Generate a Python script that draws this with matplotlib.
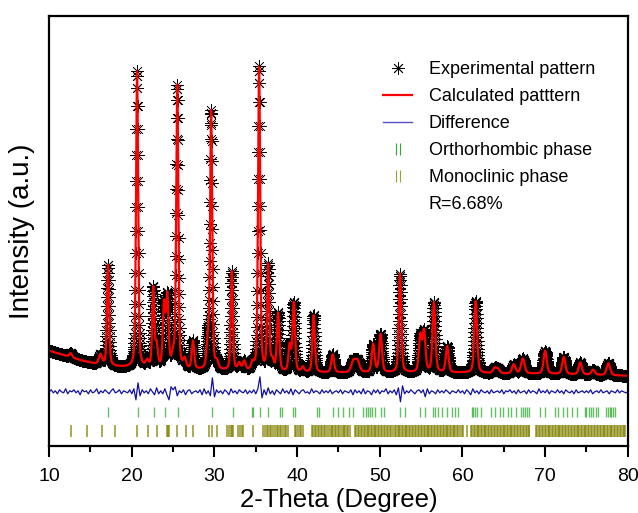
import matplotlib.pyplot as plt
from matplotlib.lines import Line2D
from matplotlib.path import Path
import numpy as np

plt.rcParams['font.family'] = ['Liberation Sans', 'DejaVu Sans']

# ---- data (intensity in arbitrary units) ----
# background anchor points of the refined profile
bg_x = [10, 12, 14, 16, 18, 20, 25, 30, 35, 40, 45, 50, 55, 60, 65, 70, 75, 80]
bg_y = [95, 90, 85, 81, 79, 78, 76, 75, 74, 73, 73, 73, 73, 73, 72, 72, 71, 70]

# reflections: position (deg), height above background, fwhm (deg)
pk_pos = [12.6, 16.2, 17.13, 20.64, 21.85, 22.6, 23.0, 23.9, 24.3, 25.0, 25.5, 26.4,
          27.4, 29.2, 29.6, 30.3, 32.1, 33.0, 33.6, 34.6, 35.4, 36.5, 37.0, 37.7,
          39.1, 39.6, 40.7, 42.0, 44.3, 46.8, 47.3, 49.2, 50.1, 52.45, 54.9, 55.35,
          56.55, 58.15, 61.6, 63.9, 64.3, 66.2, 67.3, 70.0, 72.25, 74.25, 75.8, 77.65]
pk_h = [4, 10, 101, 296, 6, 79, 22, 62, 70, 12, 283, 9,
        28, 26, 258, 7, 99, 7, 9, 7, 304, 105, 10, 58,
        26, 69, 5, 57, 18, 11, 11, 28, 38, 99, 36, 40,
        70, 26, 72, 5, 4, 9, 15, 23, 17, 12, 5, 12]
pk_w = [0.4, 0.45, 0.3, 0.3, 0.4, 0.3, 0.35, 0.35, 0.35, 0.4, 0.3, 0.4,
        0.35, 0.35, 0.3, 0.4, 0.3, 0.4, 0.4, 0.4, 0.3, 0.3, 0.4, 0.35,
        0.35, 0.35, 0.4, 0.35, 0.4, 0.6, 0.6, 0.4, 0.4, 0.35, 0.4, 0.4,
        0.4, 0.4, 0.4, 0.5, 0.5, 0.5, 0.5, 0.45, 0.45, 0.45, 0.5, 0.5]

# difference curve, 0.25 deg steps from 10 to 80
diff_base = 54
diff_vals = [
    0, 2, -1, 1, -2, 2, 0, -1, 3, -2, 1, 0, 2, -1, 1, -3, 2, 0, 1, -2,
    2, -1, 0, 3, -2, 1, -1, 2, 0, -2, 1, 3, -1, 0, 2, -2, 1, 0, -1, 2,
    -2, 3, -8, 9, -4, 2, -1, 1, -2, 3, 0, -3, 4, -2, 1, -2, 3, -3, -8, 5,
    2, 5, -4, 1, -1, 2, -3, 1, 2, -2, 0, 1, -1, 2, -3, 3, -2, 1, -4, 14,
    -5, 2, -1, 1, -2, 2, 0, -3, 3, -1, 1, -2, 2, 0, -1, 2, -2, 1, -1, 2,
    -2, 3, 15, -6, 2, -3, 4, -2, 1, -3, 2, 0, -2, 3, -1, 1, -2, 3, -3, 2,
    0, -2, 1, 2, -1, 0, -2, 3, -1, 1, 0, -2, 2, -1, 1, -1, 2, -2, 0, 1,
    -1, 2, -2, 1, 0, -1, 2, -3, 2, -1, 1, -2, 3, -2, 1, 0, -3, 2, -1, 2,
    -2, 1, 0, 3, -2, 1, -1, 2, -3, 4, -10, 6, -2, 1, -1, 2, 0, -2, 1, 2,
    -1, 2, -5, 3, -2, 1, 0, -2, 2, -1, 1, -1, 2, 0, -2, 1, 0, -1, 2, -1,
    1, -2, 2, 0, -3, 3, -1, 1, -2, 2, 0, -1, 1, -2, 2, -1, 0, 1, -1, 2,
    -2, 1, 0, 2, -1, 1, -2, 2, -1, 0, 1, -2, 2, -1, 1, 0, -2, 3, -1, 1,
    -1, 2, -2, 1, 0, -1, 2, -1, 1, -2, 2, 0, -1, 1, -2, 2, -1, 0, 1, -1,
    1, -1, 2, -2, 0, 1, -1, 2, -1, 0, 1, -2, 1, 0, -1, 2, -1, 1, 0, -1, 0]

# Bragg positions
ortho_pos = [17.17, 20.8, 22.7, 24.0, 25.6, 29.67, 32.2, 34.5, 34.7, 35.5, 36.5, 37.9,
             38.15, 39.5, 39.7, 42.4, 42.7, 44.4, 44.9, 45.6, 46.3, 46.7, 48.0, 48.3,
             48.6, 48.8, 49.0, 49.4, 50.2, 50.5, 52.5, 53.0, 54.9, 55.5, 56.4, 56.7,
             57.1, 57.5, 58.1, 58.7, 59.1, 59.5, 61.1, 61.3, 61.5, 61.7, 62.3, 63.5,
             63.9, 64.5, 64.9, 65.5, 65.9, 66.5, 67.1, 67.3, 67.6, 67.85, 68.1, 69.4,
             70.0, 71.2, 71.6, 72.2, 72.7, 73.2, 73.8, 74.8, 75.0, 75.3, 75.6, 75.85,
             76.1, 76.4, 77.4, 77.6, 77.8, 78.0, 78.2, 78.4]
mono_pos = [12.6, 14.55, 16.37, 17.98, 20.68, 21.93, 23.1, 24.23, 24.4, 24.55, 25.44,
            26.56, 27.45, 29.38, 29.67, 30.35, 31.5, 31.7, 31.95, 32.1, 32.3, 32.9,
            33.1, 33.3, 33.5, 34.7, 35.9, 36.1, 36.3, 36.45, 36.7, 36.85, 37.1, 37.3,
            37.55, 37.7, 37.95, 38.1, 38.35, 38.5, 38.7, 38.9, 39.7, 39.9, 40.1, 40.3,
            40.5, 40.7, 41.8, 41.95, 42.15, 42.3, 42.5, 42.7, 42.85, 43.05, 43.2, 43.4,
            43.6, 43.9, 44.05, 44.25, 44.4, 44.6, 44.75, 44.95, 45.1, 45.3, 45.5, 45.65,
            45.85, 46.05, 46.2, 46.4, 47.0, 47.15, 47.35, 47.5, 47.7, 47.85, 48.05, 48.2,
            48.4, 48.55, 48.75, 48.9, 49.1, 49.25, 49.45, 49.6, 49.8, 49.95, 50.15, 50.3,
            50.5, 50.65, 50.85, 51.0, 51.2, 51.35, 51.6, 51.8, 51.95, 52.15, 52.3, 52.5,
            52.65, 52.85, 53.0, 53.2, 53.35, 53.55, 53.7, 53.9, 54.05, 54.25, 54.4, 54.6,
            54.75, 54.95, 55.1, 55.3, 55.5, 55.7, 55.85, 56.0, 56.2, 56.35, 56.55, 56.7,
            56.9, 57.05, 57.25, 57.4, 57.6, 57.75, 57.95, 58.1, 58.3, 58.45, 58.65, 58.8,
            59.0, 59.15, 59.35, 59.5, 59.7, 59.9, 60.1, 60.5, 61.0, 61.15, 61.35, 61.5,
            61.7, 61.85, 62.05, 62.2, 62.4, 62.55, 62.75, 62.9, 63.1, 63.25, 63.45, 63.6,
            63.8, 63.95, 64.15, 64.3, 64.5, 64.65, 64.85, 65.0, 65.2, 65.35, 65.55, 65.7,
            65.9, 66.05, 66.25, 66.4, 66.6, 66.75, 66.95, 67.1, 67.3, 67.45, 67.65, 67.8,
            68.0, 68.1, 68.9, 69.05, 69.25, 69.4, 69.6, 69.75, 69.95, 70.1, 70.3, 70.45,
            70.65, 70.8, 71.0, 71.15, 71.35, 71.5, 71.7, 71.85, 72.05, 72.2, 72.4, 72.55,
            72.75, 72.9, 73.1, 73.25, 73.45, 73.6, 73.8, 73.95, 74.15, 74.3, 74.5, 74.65,
            74.85, 75.0, 75.2, 75.35, 75.55, 75.7, 75.9, 76.05, 76.25, 76.4, 76.6, 76.75,
            76.95, 77.1, 77.3, 77.45, 77.65, 77.8, 78.0, 78.15, 78.35, 78.5, 78.7, 78.85,
            79.05, 79.2, 79.4, 79.55, 79.7]

# ---- build refined profile (pseudo-Voigt peaks on background) ----
tt = np.arange(10, 80.001, 0.02)
calc = np.interp(tt, bg_x, bg_y)
eta = 0.4
for p, h, w in zip(pk_pos, pk_h, pk_w):
    g = np.exp(-4 * np.log(2) * ((tt - p) / w) ** 2)
    l = 1 / (1 + 4 * ((tt - p) / w) ** 2)
    calc = calc + h * (eta * l + (1 - eta) * g)
obs = calc
diff_x = np.linspace(10, 80, len(diff_vals))
diff_y = diff_base + np.array(diff_vals)

fig = plt.figure(figsize=(6.38, 5.13), dpi=100)
ax = fig.add_axes([0.077, 0.131, 0.907, 0.838])

ax.plot(tt, obs, linestyle='none', marker=(8, 2, 0), markersize=9,
        markeredgewidth=0.45, color='black')
ax.plot(tt, calc, color='red', lw=1.6)
ax.plot(diff_x, diff_y, color='#1010a0', lw=0.9)
ax.vlines(ortho_pos, 29, 39, color='#30a830', lw=1, alpha=0.75)
ax.vlines(mono_pos, 9, 21, color='#808000', lw=1.1, alpha=0.85)

ax.set_xlim(10, 80)
ax.set_ylim(0, 430)
ax.set_yticks([])
ax.set_xticks(range(10, 81, 10))
ax.set_xticks(range(15, 80, 10), minor=True)
ax.tick_params(axis='x', which='major', direction='out', length=8, width=1.5,
               labelsize=14, pad=8, top=False)
ax.tick_params(axis='x', which='minor', direction='out', length=4.5, width=1.5, top=False)
for s in ax.spines.values():
    s.set_linewidth(1.6)
ax.set_xlabel('2-Theta (Degree)', fontsize=18.5, labelpad=2)
ax.set_ylabel('Intensity (a.u.)', fontsize=20, labelpad=10)

bars = Path([(-0.35, -1), (-0.35, 1), (0.35, -1), (0.35, 1)],
            [Path.MOVETO, Path.LINETO, Path.MOVETO, Path.LINETO])
handles = [
    Line2D([], [], linestyle='none', marker=(8, 2, 0), markersize=9,
           markeredgewidth=0.6, color='black'),
    Line2D([], [], color='red', lw=1.6),
    Line2D([], [], color='#5050c0', lw=1),
    Line2D([], [], linestyle='none', marker=bars, markersize=9,
           markeredgewidth=0.8, markeredgecolor='#30a830', markerfacecolor='none'),
    Line2D([], [], linestyle='none', marker=bars, markersize=9,
           markeredgewidth=0.8, markeredgecolor='#a0a030', markerfacecolor='none'),
    Line2D([], [], linestyle='none'),
]
labels = ['Experimental pattern', 'Calculated patttern', 'Difference',
          'Orthorhombic phase', 'Monoclinic phase', 'R=6.68%']
ax.legend(handles, labels, loc='upper left', bbox_to_anchor=(0.562, 0.915),
          frameon=False, fontsize=13, handlelength=1.6, handletextpad=0.9,
          labelspacing=0.55, borderpad=0)

fig.savefig('out.png', dpi=100)
